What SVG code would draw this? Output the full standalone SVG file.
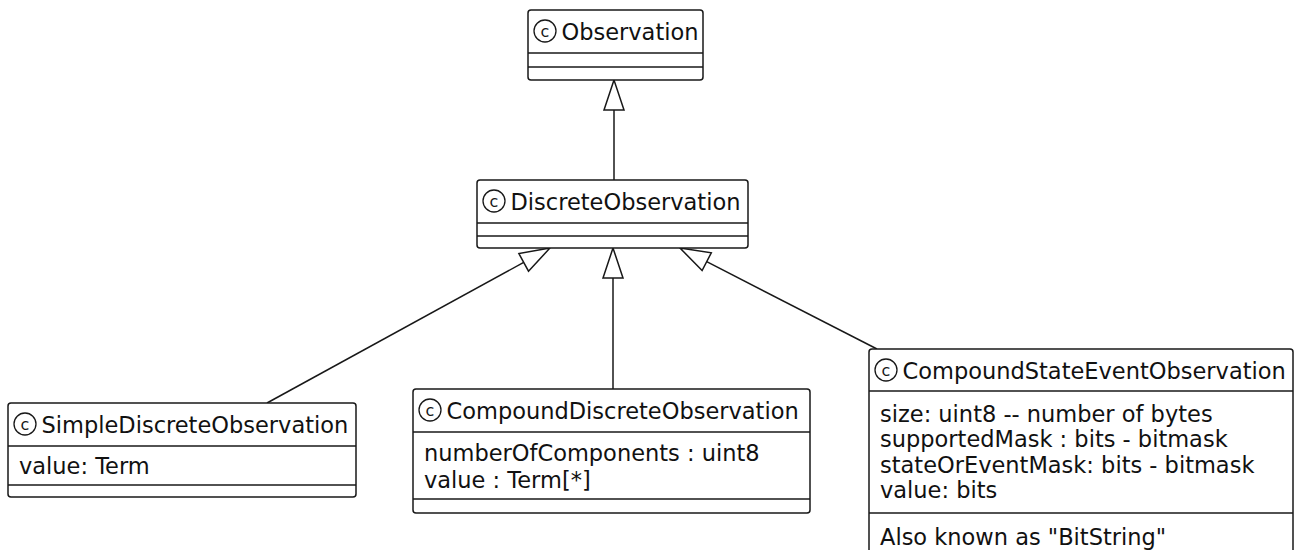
<svg xmlns="http://www.w3.org/2000/svg" width="1306" height="550" viewBox="0 0 1306 550">
  <style>
    .box { fill: #ffffff; stroke: #181818; stroke-width: 1.5; }
    .sep { stroke: #181818; stroke-width: 1.5; }
    .icon { fill: none; stroke: #181818; stroke-width: 1.3; }
    .ic { font-family: "DejaVu Sans", sans-serif; font-size: 16px; fill: #181818; text-anchor: middle; }
    .name { font-family: "DejaVu Sans", "Liberation Sans", sans-serif; font-size: 22.5px; fill: #111111; }
    .attr { font-family: "DejaVu Sans", "Liberation Sans", sans-serif; font-size: 22.5px; fill: #111111; }
    .edge { stroke: #181818; stroke-width: 1.5; fill: none; }
    .head { fill: #ffffff; stroke: #181818; stroke-width: 1.5; stroke-linejoin: miter; }
  </style>
  <rect width="1306" height="550" fill="#ffffff"/>

  <!-- generalization connectors -->
  <g id="connectors">
    <line class="edge" x1="614" y1="110" x2="614" y2="180"/>
    <polygon class="head" points="614,80 604,110 624,110"/>

    <line class="edge" x1="523.7" y1="262.4" x2="267" y2="403"/>
    <polygon class="head" points="550,248 518.9,253.6 528.5,271.2"/>

    <line class="edge" x1="613" y1="278" x2="613" y2="389"/>
    <polygon class="head" points="613,248 603,278 623,278"/>

    <line class="edge" x1="706.7" y1="261.7" x2="877" y2="349"/>
    <polygon class="head" points="680,248 711.3,252.8 702.1,270.6"/>
  </g>

  <g id="Observation">
    <rect class="box" x="528" y="10" width="175" height="70" rx="3"/>
    <line class="sep" x1="528" y1="53" x2="703" y2="53"/>
    <line class="sep" x1="528" y1="67" x2="703" y2="67"/>
    <circle class="icon" cx="545" cy="31" r="11"/>
    <text class="ic" x="545" y="36.5">c</text>
    <text class="name" x="561.5" y="40">Observation</text>
  </g>

  <g id="DiscreteObservation">
    <rect class="box" x="477" y="180" width="271" height="68" rx="3"/>
    <line class="sep" x1="477" y1="223" x2="748" y2="223"/>
    <line class="sep" x1="477" y1="236" x2="748" y2="236"/>
    <circle class="icon" cx="494" cy="201" r="11"/>
    <text class="ic" x="494" y="206.5">c</text>
    <text class="name" x="510.5" y="210">DiscreteObservation</text>
  </g>

  <g id="SimpleDiscreteObservation">
    <rect class="box" x="8" y="403" width="348" height="94" rx="3"/>
    <line class="sep" x1="8" y1="446" x2="356" y2="446"/>
    <line class="sep" x1="8" y1="485" x2="356" y2="485"/>
    <circle class="icon" cx="25" cy="424" r="11"/>
    <text class="ic" x="25" y="429.5">c</text>
    <text class="name" x="41.5" y="433">SimpleDiscreteObservation</text>
    <text class="attr" x="19" y="473.5">value: Term</text>
  </g>

  <g id="CompoundDiscreteObservation">
    <rect class="box" x="413" y="389" width="397" height="124" rx="3"/>
    <line class="sep" x1="413" y1="432" x2="810" y2="432"/>
    <line class="sep" x1="413" y1="499" x2="810" y2="499"/>
    <circle class="icon" cx="430" cy="410" r="11"/>
    <text class="ic" x="430" y="415.5">c</text>
    <text class="name" x="446.5" y="419">CompoundDiscreteObservation</text>
    <text class="attr" x="424" y="461">numberOfComponents : uint8</text>
    <text class="attr" x="424" y="487.5">value : Term[*]</text>
  </g>

  <g id="CompoundStateEventObservation">
    <rect class="box" x="869" y="349" width="424" height="220" rx="3"/>
    <line class="sep" x1="869" y1="391" x2="1293" y2="391"/>
    <line class="sep" x1="869" y1="513" x2="1293" y2="513"/>
    <circle class="icon" cx="886" cy="370" r="11"/>
    <text class="ic" x="886" y="375.5">c</text>
    <text class="name" x="902.5" y="379">CompoundStateEventObservation</text>
    <text class="attr" x="880" y="421.5">size: uint8 -- number of bytes</text>
    <text class="attr" x="880" y="447">supportedMask : bits - bitmask</text>
    <text class="attr" x="880" y="472.5">stateOrEventMask: bits - bitmask</text>
    <text class="attr" x="880" y="498">value: bits</text>
    <text class="attr" x="880" y="544.5">Also known as "BitString"</text>
  </g>
</svg>
